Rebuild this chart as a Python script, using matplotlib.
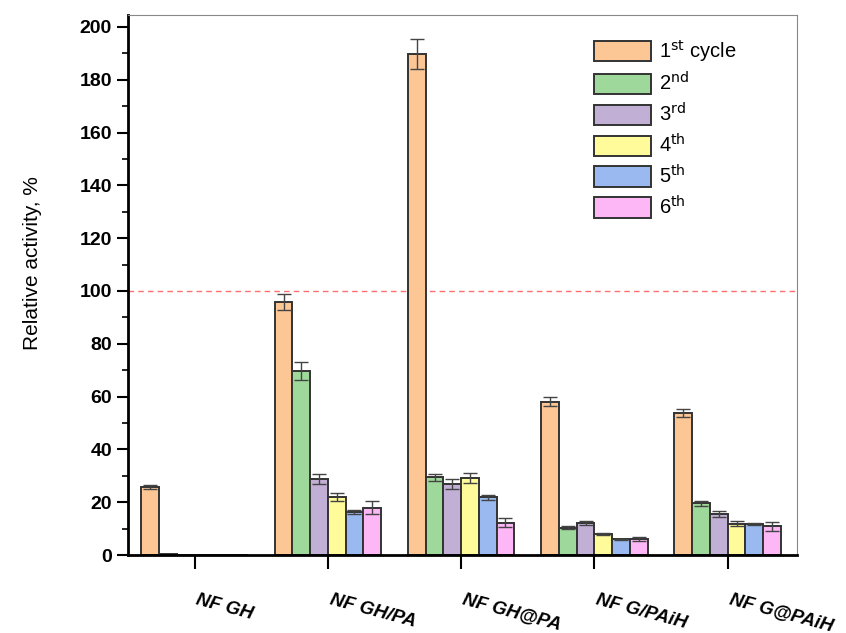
import matplotlib.pyplot as plt
import numpy as np
from matplotlib.ticker import MultipleLocator
import matplotlib.transforms as mtransforms

plt.rcParams['font.family'] = ['Liberation Sans', 'DejaVu Sans']

groups = ['NF GH', 'NF GH/PA', 'NF GH@PA', 'NF G/PAiH', 'NF G@PAiH']
cycles = ['1$^{\\mathrm{st}}$ cycle', '2$^{\\mathrm{nd}}$', '3$^{\\mathrm{rd}}$',
          '4$^{\\mathrm{th}}$', '5$^{\\mathrm{th}}$', '6$^{\\mathrm{th}}$']
colors = ['#fdc795', '#9fd89b', '#c2afd6', '#fffb9b', '#99b9f0', '#fdb6f6']

# rows: cycles, cols: groups
values = [
    [25.8, 95.8, 189.8, 58.0, 53.8],
    [0.3, 69.8, 29.4, 10.4, 19.6],
    [0.0, 28.8, 26.9, 12.0, 15.5],
    [0.0, 21.9, 29.2, 7.9, 11.8],
    [0.0, 16.2, 21.8, 6.0, 11.8],
    [0.0, 17.9, 12.3, 6.1, 10.8],
]
errors = [
    [0.8, 3.0, 5.8, 1.7, 1.5],
    [0.0, 3.4, 1.4, 0.4, 1.0],
    [0.0, 2.0, 2.0, 0.8, 1.2],
    [0.0, 1.6, 2.0, 0.5, 0.9],
    [0.0, 0.7, 1.0, 0.2, 0.5],
    [0.0, 2.4, 1.7, 0.8, 1.6],
]

fig = plt.figure(figsize=(8.46, 6.33), dpi=100)
ax = fig.add_axes([0.1513, 0.1232, 0.7907, 0.8531])

x = np.arange(len(groups))
w = 0.133
for i in range(len(cycles)):
    pos = x + (i - 2.5) * w
    vals = np.array(values[i])
    errs = np.array(errors[i])
    ax.bar(pos, vals, width=w, color=colors[i], edgecolor='#333333',
           linewidth=1.4, label=cycles[i], zorder=2)
    mask = errs > 0
    ax.errorbar(pos[mask], vals[mask], yerr=errs[mask], fmt='none',
                ecolor='#444444', elinewidth=1.0, capsize=5, capthick=1.0, zorder=3)

ax.axhline(100, color='#ff6f6f', linestyle=(0, (4, 3)), linewidth=1.0, zorder=1)

ax.set_xlim(-0.5, 4.52)
ax.set_ylim(0, 204.5)
ax.yaxis.set_major_locator(MultipleLocator(20))
ax.yaxis.set_minor_locator(MultipleLocator(10))
ax.tick_params(axis='y', which='major', direction='out', length=8, width=1.5, labelsize=14)
ax.tick_params(axis='y', which='minor', direction='out', length=4, width=1.2)
for t in ax.get_yticklabels():
    t.set_fontweight('bold')

ax.set_xticks(x)
ax.set_xticklabels(groups, rotation=-15, ha='left', rotation_mode='anchor',
                   fontsize=13.5, fontweight='bold', fontstyle='italic')
ax.tick_params(axis='x', direction='out', length=10, width=1.5, pad=16)
shift = mtransforms.ScaledTranslation(3 / 72, 0, fig.dpi_scale_trans)
for t in ax.get_xticklabels():
    t.set_transform(t.get_transform() + shift)

ax.spines['left'].set_linewidth(2)
ax.spines['bottom'].set_linewidth(2)
ax.spines['top'].set_linewidth(0.8)
ax.spines['right'].set_linewidth(0.8)
ax.spines['top'].set_color('#888888')
ax.spines['right'].set_color('#888888')

ax.set_ylabel('Relative activity, %', fontsize=15)
ax.yaxis.set_label_coords(-0.128, 0.54)

leg = ax.legend(loc='upper left', bbox_to_anchor=(0.685, 0.972), frameon=False,
                fontsize=14.5, handlelength=2.8, handleheight=1.2, labelspacing=0.38,
                handletextpad=0.4, borderaxespad=0)

fig.savefig('out.png', dpi=100)
